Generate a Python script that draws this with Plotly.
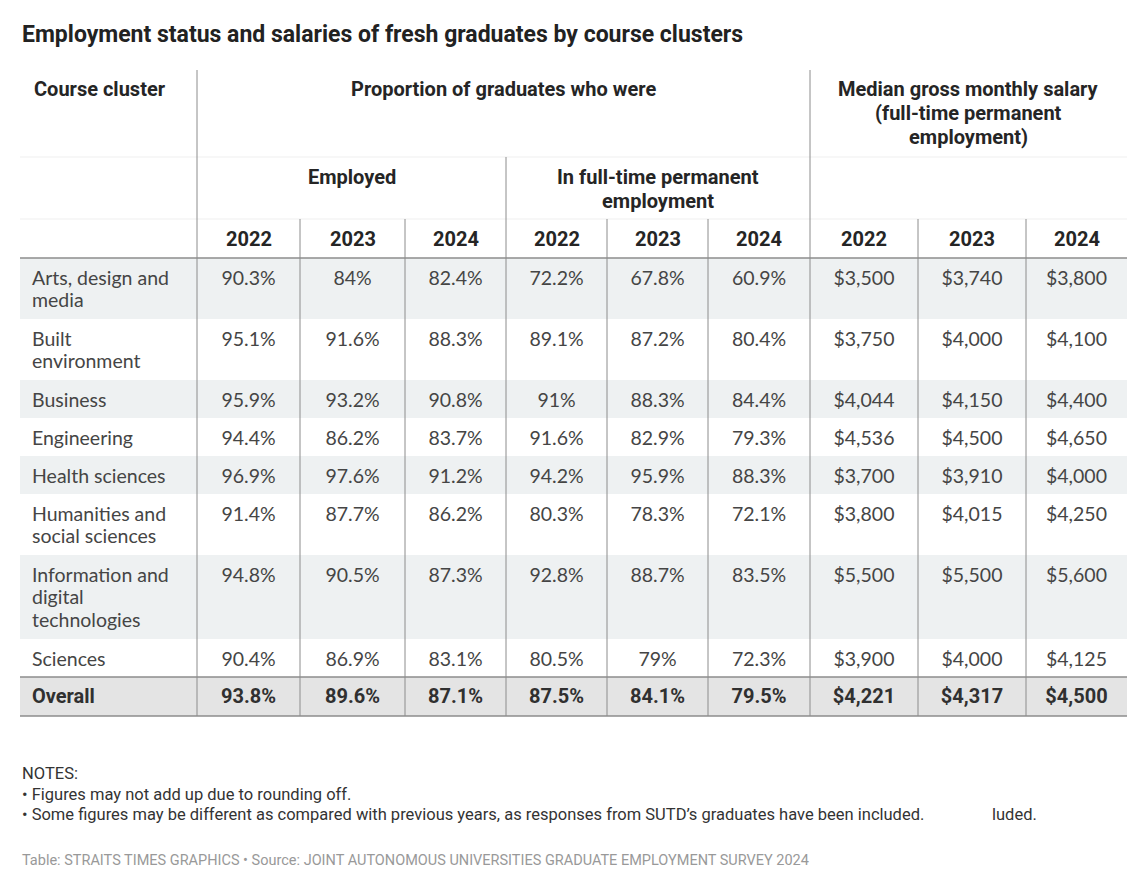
"""Table: employment status and salaries of fresh graduates by course cluster."""

import plotly.graph_objects as go

# ------------------------------------------------------------------ #
# Data                                                                 #
# ------------------------------------------------------------------ #
clusters = [
    "Arts, design and<br>media",
    "Built<br>environment",
    "Business",
    "Engineering",
    "Health sciences",
    "Humanities and<br>social sciences",
    "Information and<br>digital<br>technologies",
    "Sciences",
]
years = ["2022", "2023", "2024"]

employed_2022 = [90.3, 95.1, 95.9, 94.4, 96.9, 91.4, 94.8, 90.4]
employed_2023 = [84, 91.6, 93.2, 86.2, 97.6, 87.7, 90.5, 86.9]
employed_2024 = [82.4, 88.3, 90.8, 83.7, 91.2, 86.2, 87.3, 83.1]
fulltime_2022 = [72.2, 89.1, 91, 91.6, 94.2, 80.3, 92.8, 80.5]
fulltime_2023 = [67.8, 87.2, 88.3, 82.9, 95.9, 78.3, 88.7, 79]
fulltime_2024 = [60.9, 80.4, 84.4, 79.3, 88.3, 72.1, 83.5, 72.3]
salary_2022 = [3500, 3750, 4044, 4536, 3700, 3800, 5500, 3900]
salary_2023 = [3740, 4000, 4150, 4500, 3910, 4015, 5500, 4000]
salary_2024 = [3800, 4100, 4400, 4650, 4000, 4250, 5600, 4125]

overall_employed = [93.8, 89.6, 87.1]
overall_fulltime = [87.5, 84.1, 79.5]
overall_salary = [4221, 4317, 4500]

TITLE = "Employment status and salaries of fresh graduates by course clusters"
HEAD_GROUP = "Proportion of graduates who were"
HEAD_SALARY = "Median gross monthly salary<br>(full-time permanent<br>employment)"
HEAD_EMPLOYED = "Employed"
HEAD_FULLTIME = "In full-time permanent<br>employment"
NOTES = [
    "NOTES:",
    "\u2022 Figures may not add up due to rounding off.",
    "\u2022 Some figures may be different as compared with previous years, "
    "as responses from SUTD\u2019s graduates have been included.",
]
SOURCE = ("Table: STRAITS TIMES GRAPHICS \u2022 Source: JOINT AUTONOMOUS "
          "UNIVERSITIES GRADUATE EMPLOYMENT SURVEY 2024")

# ------------------------------------------------------------------ #
# Layout (pixel grid of the page)                                      #
# ------------------------------------------------------------------ #
W, H = 1140, 889
BODY_MARGIN = 8          # default page margin around the plot div
COL_EDGES = [20, 197, 300, 405, 506, 607, 708, 810, 918, 1026, 1127]
HEAD_Y = [70, 157, 219, 258]
ROW_BASE, LINE_STEP = 38, 23
FIRST_LINE = 22          # row top to first text line (scatter text sits a bit high)
BODY_LINE = 22.5
HEAD_LINE = 24

HEAD_FONT = "Roboto"
BODY_FONT = "Lato"
LINE_GREY = "#8c8c8c"
ZEBRA = "#eef1f2"
OVERALL_BG = "#e4e4e4"
BODY_COLOR = "#454545"
HEAD_COLOR = "#252525"


def pct(v):
    return f"{v:g}%"


def money(v):
    return f"${v:,}"


columns = [
    [pct(v) for v in employed_2022],
    [pct(v) for v in employed_2023],
    [pct(v) for v in employed_2024],
    [pct(v) for v in fulltime_2022],
    [pct(v) for v in fulltime_2023],
    [pct(v) for v in fulltime_2024],
    [money(v) for v in salary_2022],
    [money(v) for v in salary_2023],
    [money(v) for v in salary_2024],
]
overall_row = ([pct(v) for v in overall_employed]
               + [pct(v) for v in overall_fulltime]
               + [money(v) for v in overall_salary])

# row tops from the number of text lines in the first column
row_tops = []
y = HEAD_Y[-1]
for label in clusters:
    row_tops.append(y)
    y += ROW_BASE + LINE_STEP * label.count("<br>")
overall_top = y
overall_bottom = overall_top + ROW_BASE + 1
centres = [(a + b) / 2 for a, b in zip(COL_EDGES[1:-1], COL_EDGES[2:])]

fig = go.Figure()

# cluster names, one point per text line so line spacing matches
name_x, name_y, name_text = [], [], []
for top, label in zip(row_tops, clusters):
    for k, part in enumerate(label.split("<br>")):
        name_x.append(COL_EDGES[0] + 12)
        name_y.append(top + FIRST_LINE + k * BODY_LINE)
        name_text.append(part)
fig.add_trace(go.Scatter(
    x=name_x, y=name_y, text=name_text, mode="text",
    textposition="middle right",
    textfont=dict(family=BODY_FONT, size=19.5, color=BODY_COLOR),
    hoverinfo="skip", showlegend=False,
))
# value columns
for cx, vals in zip(centres, columns):
    fig.add_trace(go.Scatter(
        x=[cx] * len(vals), y=[t + FIRST_LINE for t in row_tops],
        text=vals, mode="text", textposition="middle center",
        textfont=dict(family=BODY_FONT, size=19.5, color=BODY_COLOR),
        hoverinfo="skip", showlegend=False,
    ))
# overall row
fig.add_trace(go.Scatter(
    x=[COL_EDGES[0] + 12] + centres,
    y=[overall_top + FIRST_LINE - 1] * (len(centres) + 1),
    text=["<b>Overall</b>"] + [f"<b>{v}</b>" for v in overall_row],
    mode="text",
    textposition=["middle right"] + ["middle center"] * len(centres),
    textfont=dict(family=HEAD_FONT, size=20, color="#303030"),
    hoverinfo="skip", showlegend=False,
))

shapes = []
# zebra backgrounds
for i, top in enumerate(row_tops):
    if i % 2 == 0:
        bottom = row_tops[i + 1] if i + 1 < len(row_tops) else overall_top
        shapes.append(dict(type="rect", xref="x", yref="y", layer="below",
                           x0=COL_EDGES[0], x1=COL_EDGES[-1], y0=top, y1=bottom,
                           fillcolor=ZEBRA, line=dict(width=0)))
shapes.append(dict(type="rect", xref="x", yref="y", layer="below",
                   x0=COL_EDGES[0], x1=COL_EDGES[-1],
                   y0=overall_top, y1=overall_bottom,
                   fillcolor=OVERALL_BG, line=dict(width=0)))


def hline(yv, color, width):
    shapes.append(dict(type="line", xref="x", yref="y",
                       x0=COL_EDGES[0], x1=COL_EDGES[-1], y0=yv, y1=yv,
                       line=dict(color=color, width=width)))


hline(HEAD_Y[1], "#efefef", 1)
hline(HEAD_Y[2], "#efefef", 1)
hline(HEAD_Y[3], LINE_GREY, 1.5)
hline(overall_top, LINE_GREY, 1.5)
hline(overall_bottom, LINE_GREY, 1.5)

# vertical rules: group boundaries start higher in the header
for xi, xv in enumerate(COL_EDGES[1:-1], start=1):
    if xi in (1, 7):
        y0 = HEAD_Y[0]
    elif xi == 4:
        y0 = HEAD_Y[1]
    else:
        y0 = HEAD_Y[2]
    shapes.append(dict(type="line", xref="x", yref="y",
                       x0=xv, x1=xv, y0=y0, y1=overall_bottom,
                       line=dict(color=LINE_GREY, width=1)))

annotations = []


def note(x, yv, text, size, color, family=HEAD_FONT, xanchor="center"):
    annotations.append(dict(
        x=x, y=yv, xref="x", yref="y", text=text, showarrow=False,
        xanchor=xanchor, yanchor="middle", align="left",
        font=dict(family=family, size=size, color=color)))


def header(x, top, text, size=20, xanchor="center"):
    for k, part in enumerate(text.split("<br>")):
        note(x, top + k * HEAD_LINE, f"<b>{part}</b>", size, HEAD_COLOR,
             xanchor=xanchor)


note(COL_EDGES[0], 34, f"<b>{TITLE}</b>", 23, "#222222", xanchor="left")

# header texts
header(COL_EDGES[0] + 12, HEAD_Y[0] + 19, "Course cluster", xanchor="left")
header((COL_EDGES[1] + COL_EDGES[7]) / 2, HEAD_Y[0] + 19, HEAD_GROUP)
header((COL_EDGES[7] + COL_EDGES[10]) / 2, HEAD_Y[0] + 19, HEAD_SALARY)
header((COL_EDGES[1] + COL_EDGES[4]) / 2, HEAD_Y[1] + 20, HEAD_EMPLOYED)
header((COL_EDGES[4] + COL_EDGES[7]) / 2, HEAD_Y[1] + 20, HEAD_FULLTIME)
for i, cx in enumerate(centres):
    header(cx, (HEAD_Y[2] + HEAD_Y[3]) / 2 + 0.5, years[i % 3], size=20)

# notes and source
for yv, line in zip([773, 794, 814], NOTES):
    note(COL_EDGES[0], yv, line, 16.5, "#333333", xanchor="left")
note(990, 814, "luded.", 16.5, "#333333", xanchor="left")
note(COL_EDGES[0], 860, SOURCE, 14.5, "#999999", xanchor="left")

fig.update_layout(
    width=W - BODY_MARGIN, height=H - BODY_MARGIN,
    margin=dict(l=0, r=0, t=0, b=0),
    paper_bgcolor="white", plot_bgcolor="white",
    xaxis=dict(range=[BODY_MARGIN, W], visible=False, fixedrange=True),
    yaxis=dict(range=[H, BODY_MARGIN], visible=False, fixedrange=True),
    shapes=shapes, annotations=annotations,
)

fig.write_html("out.html")
